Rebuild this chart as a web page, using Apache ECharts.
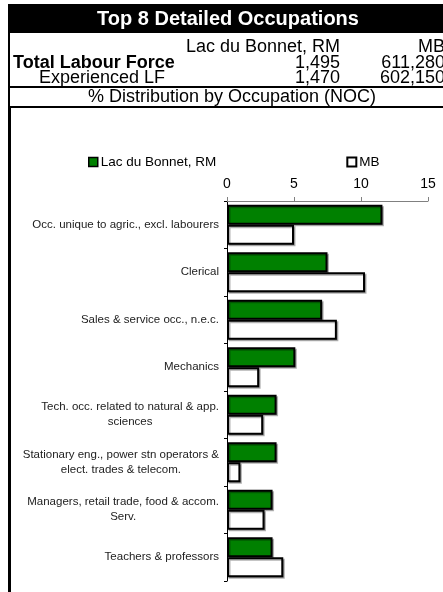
<!DOCTYPE html>
<html>
<head>
<meta charset="utf-8">
<script src="https://cdn.jsdelivr.net/npm/echarts@6/dist/echarts.min.js"></script>
<style>
html,body{margin:0;padding:0;background:#fff;}
#c{width:443px;height:592px;}
</style>
</head>
<body>
<div id="c"></div>
<script>
var title = 'Top 8 Detailed Occupations';
var places = ['Lac du Bonnet, RM', 'MB'];
var totalLF = ['1,495', '611,280'];
var experiencedLF = ['1,470', '602,150'];
var subtitle = '% Distribution by Occupation (NOC)';

var categories = [
  'Occ. unique to agric., excl. labourers',
  'Clerical',
  'Sales & service occ., n.e.c.',
  'Mechanics',
  'Tech. occ. related to natural & app.\nsciences',
  'Stationary eng., power stn operators &\nelect. trades & telecom.',
  'Managers, retail trade, food & accom.\nServ.',
  'Teachers & professors'
];
var lacValues = [11.6, 7.5, 7.1, 5.1, 3.7, 3.7, 3.4, 3.4];
var mbValues = [5.0, 10.3, 8.2, 2.4, 2.7, 1.0, 2.8, 4.2];
var axisTicks = [0, 5, 10, 15];

var FONT = '"Liberation Sans", Arial, sans-serif';
var chart = echarts.init(document.getElementById('c'));

function txt(x, y, text, opt) {
  return {
    type: 'text', x: x, y: y, silent: true,
    style: Object.assign({
      text: text, fontFamily: FONT, fontSize: 18, fill: '#000',
      textAlign: 'left', textVerticalAlign: 'middle'
    }, opt || {})
  };
}

var graphics = [
  {type: 'rect', shape: {x: 8, y: 4, width: 440, height: 29}, style: {fill: '#000'}, silent: true},
  txt(228, 19, title, {fill: '#fff', fontWeight: 'bold', fontSize: 20, textAlign: 'center'}),
  txt(340, 47, places[0], {textAlign: 'right'}),
  txt(445, 47, places[1], {textAlign: 'right'}),
  txt(13, 63, 'Total Labour Force', {fontWeight: 'bold'}),
  txt(340, 63, totalLF[0], {textAlign: 'right'}),
  txt(445, 63, totalLF[1], {textAlign: 'right'}),
  txt(39, 78, 'Experienced LF'),
  txt(340, 78, experiencedLF[0], {textAlign: 'right'}),
  txt(445, 78, experiencedLF[1], {textAlign: 'right'}),
  {type: 'rect', shape: {x: 8, y: 86, width: 440, height: 2}, style: {fill: '#000'}, silent: true},
  txt(232, 97, subtitle, {textAlign: 'center'}),
  {type: 'rect', shape: {x: 8, y: 106, width: 440, height: 2}, style: {fill: '#000'}, silent: true},
  {type: 'rect', shape: {x: 8, y: 33, width: 2, height: 75}, style: {fill: '#000'}, silent: true},
  {type: 'rect', shape: {x: 8, y: 106, width: 3, height: 490}, style: {fill: '#000'}, silent: true}
];

var option = {
  animation: false,
  backgroundColor: '#fff',
  textStyle: {fontFamily: FONT},
  graphic: graphics,
  legend: {
    left: 88, top: 155, padding: 0,
    itemWidth: 9, itemHeight: 9, itemGap: 130,
    icon: 'rect',
    textStyle: {fontSize: 13.5, color: '#000', fontFamily: FONT, padding: [0, 0, 0, -2]},
    data: [
      {name: places[0], itemStyle: {color: '#008000', borderColor: '#000', borderWidth: 1.5}},
      {name: places[1], itemStyle: {color: '#fff', borderColor: '#000', borderWidth: 2}}
    ]
  },
  grid: {left: 227, right: 15, top: 201, bottom: 11},
  xAxis: {
    type: 'value', position: 'top', min: 0, max: 15, interval: 5,
    axisLine: {show: true, lineStyle: {color: '#808080', width: 1}},
    axisTick: {show: true, length: 4, lineStyle: {color: '#808080'}},
    splitLine: {show: false},
    axisLabel: {fontSize: 14, color: '#000', margin: 10, fontFamily: FONT,
      formatter: function (v) { return axisTicks.indexOf(v) >= 0 ? String(v) : ''; }}
  },
  yAxis: {
    type: 'category', inverse: true, data: categories,
    axisLine: {show: true, lineStyle: {color: '#000', width: 1}},
    axisTick: {show: true, length: 3, lineStyle: {color: '#000'}},
    axisLabel: {
      margin: 8, color: '#222', fontSize: 11.5, fontFamily: FONT, lineHeight: 15,
      formatter: function (v) {
        return v.split('\n').map(function (l) { return '{c|' + l + '}'; }).join('\n');
      },
      rich: {c: {align: 'center', fontSize: 11.5, lineHeight: 15, color: '#222', fontFamily: FONT}}
    }
  },
  series: [
    {
      name: places[0], type: 'bar', data: lacValues,
      barGap: '0%', barCategoryGap: '16%',
      itemStyle: {color: '#008000', borderColor: '#000', borderWidth: 2,
        shadowColor: 'rgba(0,0,0,0.3)', shadowOffsetX: 1.5, shadowOffsetY: 1.5, shadowBlur: 0}
    },
    {
      name: places[1], type: 'bar', data: mbValues,
      barGap: '0%', barCategoryGap: '16%',
      itemStyle: {color: '#fff', borderColor: '#000', borderWidth: 2,
        shadowColor: 'rgba(0,0,0,0.3)', shadowOffsetX: 1.5, shadowOffsetY: 1.5, shadowBlur: 0}
    }
  ]
};
chart.setOption(option);
</script>
</body>
</html>
